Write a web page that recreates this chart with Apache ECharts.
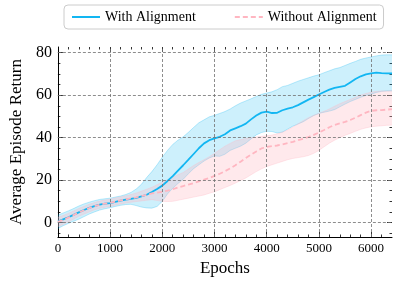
<!DOCTYPE html>
<html><head><meta charset="utf-8">
<script src="https://cdn.jsdelivr.net/npm/echarts@6/dist/echarts.min.js"></script>
<style>html,body{margin:0;padding:0;background:#fff}#c{width:398px;height:284px}</style>
</head><body><div id="c"></div>
<script>
const epochs = [0,100,200,300,400,500,600,700,800,900,1000,1100,1200,1300,1400,1500,1600,1700,1800,1900,2000,2100,2200,2300,2400,2500,2600,2700,2800,2900,3000,3100,3200,3300,3400,3500,3600,3700,3800,3900,4000,4100,4200,4300,4400,4500,4600,4700,4800,4900,5000,5100,5200,5300,5400,5500,5600,5700,5800,5900,6000,6100,6200,6300,6400];

const withMean = [0.5,1.5,2.5,3.6,4.8,5.9,6.9,7.7,8.4,8.9,9.2,9.8,10.3,10.8,11.2,11.6,12.3,13.1,14.4,15.8,17.4,19.6,21.9,24.5,27,29.6,32.3,35,37.3,38.8,39.7,40.4,41.6,43.4,44.4,45.4,46.6,48.6,50.4,51.8,52.3,51.6,51.7,52.9,53.7,54.3,55.3,56.6,57.9,59.1,60.3,61.5,62.6,63.4,63.9,64.4,66,67.6,68.9,69.8,70.3,70.6,70.4,70.3,70.3];
const withUpper = [3.5,4.5,5.5,6.6,7.8,8.8,9.6,10.3,10.9,11.2,11.5,12,12.5,13.2,14.2,15.8,18,21.2,24,27.2,30.8,34,36.8,38.8,40.4,42.5,44.8,47,48.4,49.8,50.5,51.4,52.3,53.5,55,56.3,57.3,58.3,59.4,60.4,61,61.6,62.6,64,64.6,65.6,66.6,67.4,68.2,69,69.6,70.6,71.5,72.4,73,74,75,75.9,76.9,77.5,78,78.5,78.9,79,79];
const withLower = [-2.8,-1.5,-0.4,0.6,1.6,2.8,4,5,5.9,6.5,7,7.6,8.1,8.5,8.6,8,7.3,6.9,6.8,7.6,10,13.5,16.2,18.4,20.4,23,25.4,27.2,29,30.4,31.4,31.2,32.2,34,35,36,37.4,39.4,41.3,42.4,43,42.9,42.2,42.6,44,45.4,46.4,47.5,49,50.4,51.4,52,52.5,53.2,54.5,55.8,57,58,59,59.9,60.5,61.3,61.8,62,62];

const withoutMean = [0.3,1.2,2.3,3.5,4.8,5.8,6.8,7.7,8.4,8.9,9.3,9.9,10.4,10.9,11.4,11.9,12.5,13.1,13.7,14.1,14.5,15,15.7,16.5,17.2,17.9,18.6,19.4,20.2,21,22,23,24.2,25.5,27,28.7,30.4,32,33.5,34.9,35.6,36,36.3,36.8,37.4,38,38.8,39.5,40.3,41.3,42.4,43.6,44.9,46,46.7,47.4,48.3,49.4,50.6,51.8,52.6,52.9,53,53.2,53.4];
const withoutUpper = [2.5,3.3,4.3,5.4,6.6,7.6,8.6,9.4,10.1,10.6,11,11.6,12.1,12.6,13.2,13.9,14.8,15.7,16.6,17.8,19,20.2,21.4,22.5,23.6,25.2,26.9,28.3,29.6,31,32.6,34.3,36,37.3,38.5,39.1,39.6,40,40.3,40.6,40.9,41.2,41.8,42.6,43.6,45,46.5,48,49.4,50.5,51.5,52.4,53.5,54.8,56,57,58,59,60,60.8,61.4,61.8,62,62,62.1];
const withoutLower = [-1.9,-0.9,0.3,1.6,3,4,5,6,6.7,7.2,7.6,8.2,8.7,9.2,9.6,9.9,10.2,10.5,10.8,10.4,10,9.9,10,10.5,11,11.5,12,12.5,13,13.8,14.5,15.5,16.5,17.5,18.6,19.8,21,22.5,24,25.3,26.4,27.2,28,28.8,29.6,30.2,30.6,31,31.6,32.6,34,35.7,37.4,38.8,40,41.1,42,43,43.9,44.6,45.1,45.4,45.6,45.8,45.9];

const xMajorTicks = [0,1000,2000,3000,4000,5000,6000];
const xMinorTicks = [200,400,600,800,1200,1400,1600,1800,2200,2400,2600,2800,3200,3400,3600,3800,4200,4400,4600,4800,5200,5400,5600,5800,6200];
const yMajorTicks = [0,20,40,60,80];
const yMinorTicks = [-5,5,10,15,25,30,35,45,50,55,65,70,75];
const seriesNames = ['With Alignment','Without Alignment'];

const FONT = 'Liberation Serif';
const BLUE = '#12b6f2';
const PINK = '#ffb6c1';
const X_MIN = 0, X_MAX = 6400, Y_MIN = -6.8, Y_MAX = 82.7;

function pairs(ys){ return epochs.map((x,i)=>[x, ys[i]]); }

function xAx(pos, ticks, len, labels, line, name){
  return {
    type:'value', position:pos, min:X_MIN, max:X_MAX,
    axisLine:{show:line, onZero:false, lineStyle:{color:'#000', width:1}},
    axisTick:{show:true, inside:true, length:len, customValues:ticks, lineStyle:{color:'#000', width:0.8}},
    axisLabel:{show:labels, customValues:ticks, formatter:v=>String(v), fontFamily:FONT, fontSize:13, color:'#000', margin:5},
    splitLine:{show:false},
    name: name || '', nameLocation:'middle', nameGap:21,
    nameTextStyle:{fontFamily:FONT, fontSize:17, color:'#000'}
  };
}
function yAx(pos, ticks, len, labels, line, name){
  return {
    type:'value', position:pos, min:Y_MIN, max:Y_MAX,
    axisLine:{show:line, onZero:false, lineStyle:{color:'#000', width:1}},
    axisTick:{show:true, inside:true, length:len, customValues:ticks, lineStyle:{color:'#000', width:0.8}},
    axisLabel:{show:labels, customValues:ticks, formatter:v=>String(v), fontFamily:FONT, fontSize:16, color:'#000', margin:6},
    splitLine:{show:false},
    name: name || '', nameLocation:'middle', nameGap:28,
    nameTextStyle:{fontFamily:FONT, fontSize:17, color:'#000'}
  };
}

function bandSeries(name, lower, upper, color, fillOp, edgeOp){
  return {
    type:'custom', name:name, silent:true, clip:true,
    data: epochs.map((x,i)=>[x, lower[i], upper[i]]),
    encode:{x:0, y:[1,2]},
    renderItem:function(params, api){
      if (params.dataIndex !== 0) return null;
      const top = epochs.map((x,i)=>api.coord([x, upper[i]]));
      const bot = epochs.map((x,i)=>api.coord([x, lower[i]]));
      return {type:'group', children:[
        {type:'polygon', shape:{points: top.concat(bot.slice().reverse())}, style:{fill:color, opacity:fillOp}},
        {type:'polyline', shape:{points: top}, style:{stroke:color, fill:null, lineWidth:0.9, opacity:edgeOp}},
        {type:'polyline', shape:{points: bot}, style:{stroke:color, fill:null, lineWidth:0.9, opacity:edgeOp}}
      ]};
    }
  };
}

const gridLineStyle = {type:[3,2], color:'#707070', width:0.8};

const option = {
  animation:false,
  backgroundColor:'#fff',
  grid:{left:53, right:6, top:47, bottom:47, containLabel:false},
  legend:{
    data:seriesNames.map(n=>({name:n, itemStyle:{opacity:0}})), left:64, top:5, itemWidth:28, itemHeight:14, itemGap:38,
    borderColor:'#cccccc', borderWidth:1, borderRadius:4, padding:[5,7,5,7],
    textStyle:{fontFamily:FONT, fontSize:14, color:'#000'}
  },
  xAxis:[
    xAx('bottom', xMajorTicks, 5, true, true, 'Epochs'),
    xAx('bottom', xMinorTicks, 2.5, false, false),
    xAx('top', xMajorTicks, 5, false, false),
    xAx('top', xMinorTicks, 2.5, false, false)
  ],
  yAxis:[
    yAx('left', yMajorTicks, 5, true, true, 'Average Episode Return'),
    yAx('left', yMinorTicks, 2.5, false, false),
    yAx('right', yMajorTicks, 5, false, false),
    yAx('right', yMinorTicks, 2.5, false, false)
  ],
  series:[
    {name:'gridlines', type:'line', data:[], silent:true,
     markLine:{silent:true, symbol:['none','none'], label:{show:false}, lineStyle:gridLineStyle,
       data: yMajorTicks.map(v=>({yAxis:v})).concat(xMajorTicks.filter(v=>v>X_MIN).map(v=>({xAxis:v})))}},
    bandSeries('withBand', withLower, withUpper, BLUE, 0.21, 0.3),
    {name:seriesNames[0], type:'line', data:pairs(withMean), symbol:'none', showSymbol:false,
     itemStyle:{color:BLUE}, lineStyle:{color:BLUE, width:1.8}},
    bandSeries('withoutBand', withoutLower, withoutUpper, PINK, 0.3, 0.35),
    {name:seriesNames[1], type:'line', data:pairs(withoutMean), symbol:'none', showSymbol:false,
     itemStyle:{color:PINK}, lineStyle:{color:PINK, width:1.8, type:[5,3]}}
  ]
};
const chart = echarts.init(document.getElementById('c'), null, {renderer:'canvas'});
chart.setOption(option);
</script></body></html>
